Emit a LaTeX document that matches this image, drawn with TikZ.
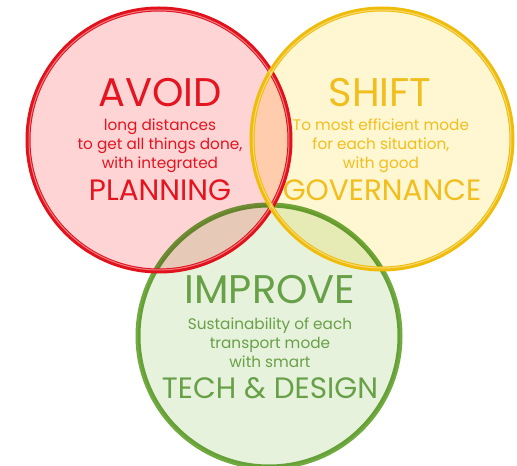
\documentclass[tikz,border=0pt]{standalone}
\usepackage{fontspec}
\setmainfont{Poppins}
\definecolor{avoidline}{RGB}{226,18,28}
\definecolor{avoidfill}{RGB}{255,212,212}
\definecolor{avoidtext}{RGB}{228,20,32}
\definecolor{shiftline}{RGB}{240,188,10}
\definecolor{shiftfill}{RGB}{255,247,210}
\definecolor{shifttext}{RGB}{242,190,30}
\definecolor{improveline}{RGB}{112,170,64}
\definecolor{improvefill}{RGB}{230,242,220}
\definecolor{improvetext}{RGB}{104,160,72}
\tikzset{
  ring/.style={line width=5pt},
  gleam/.style={line width=1pt, white, opacity=0.45},
  title/.style={font=\fontsize{40}{40}\selectfont},
  key/.style={font=\fontsize{29.5}{30}\selectfont},
  blurb/.style={font=\fontsize{15.3}{19}\selectfont, align=center},
}
\begin{document}
\begin{tikzpicture}[x=1pt,y=1pt]
  \useasboundingbox (0,0) rectangle (517,466);
  \coordinate (avoid) at (159,326);
  \coordinate (shift) at (382,327);
  \coordinate (improve) at (269,130);
  % fills
  \begin{scope}[blend group=multiply]
    \fill[improvefill] (improve) circle (131);
    \draw[ring, improveline] (improve) circle (131);
    \fill[avoidfill] (avoid) circle (131);
    \fill[shiftfill] (shift) circle (130);
  \end{scope}
  % rings
  \draw[ring, avoidline] (avoid) circle (131);
  \draw[ring, shiftline] (shift) circle (130);
  \draw[gleam] (avoid) circle (130);
  \draw[gleam] (shift) circle (129);
  % texts
  \node[title, text=avoidtext] (avoid title) at (160,373) {AVOID};
  \node[blurb, text=avoidtext] (avoid blurb) at (160,320)
    {long distances\\to get all things done,\\with integrated};
  \node[key, text=avoidtext] (avoid key) at (160,276) {PLANNING};
  \node[title, text=shifttext] (shift title) at (380,373) {SHIFT};
  \node[blurb, text=shifttext] (shift blurb) at (381,320)
    {To most efficient mode\\for each situation,\\with good};
  \node[key, text=shifttext] (shift key) at (382,276) {GOVERNANCE};
  \node[title, text=improvetext] (improve title) at (270,176) {IMPROVE};
  \node[blurb, text=improvetext] (improve blurb) at (270,123)
    {Sustainability of each\\transport mode\\with smart};
  \node[key, text=improvetext] (improve key) at (270,78) {TECH \& DESIGN};
\end{tikzpicture}
\end{document}
